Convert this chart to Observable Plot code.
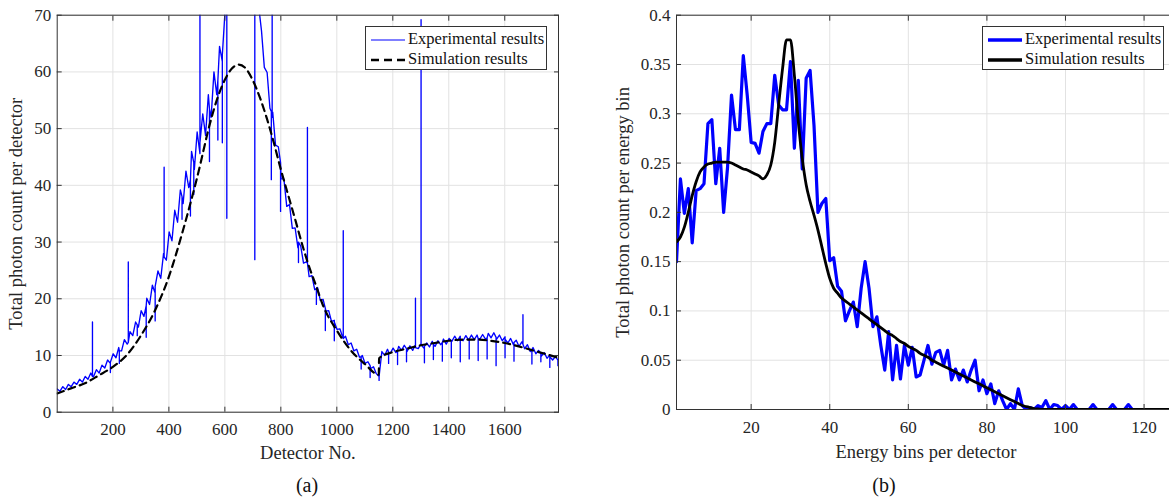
<!DOCTYPE html>
<html><head><meta charset="utf-8">
<script src="https://cdn.jsdelivr.net/npm/d3@7"></script>
<script src="https://cdn.jsdelivr.net/npm/@observablehq/plot@0.6"></script>
<style>
html,body{margin:0;padding:0;background:#fff;width:1169px;height:500px;overflow:hidden;}
#wrap{position:relative;width:1169px;height:500px;overflow:hidden;font-family:"Liberation Serif",serif;color:#111;}
.panel{position:absolute;top:0;}
.legend{position:absolute;box-sizing:border-box;background:#fff;border:1px solid #333;font-size:16.5px;line-height:20px;}
.legend .row{position:absolute;left:0;white-space:nowrap;}
.legend svg{position:absolute;left:0;top:0;}
.legend span{position:absolute;left:42px;top:0;}
.caption{position:absolute;top:474px;font-size:20px;width:60px;text-align:center;}
</style></head>
<body><div id="wrap"></div>
<script>
// ---------- Panel (a) data ----------
const detX = d3.range(1, 1792, 10); // detector numbers 1, 11, ..., 1791
const expCount = [
4.1,3.7,4.5,4.0,4.9,4.5,5.3,4.9,5.8,5.3,
6.3,5.8,6.9,6.3,7.5,6.9,8.3,7.8,9.2,8.6,
10.3,9.6,11.4,10.8,12.8,12.0,14.2,13.5,15.9,15.0,
17.9,16.9,20.1,19.0,22.4,21.0,24.9,23.6,28.0,26.8,
31.8,30.2,35.6,33.5,39.2,36.8,42.5,39.6,46.0,42.8,
49.4,45.6,52.6,48.8,56.0,52.0,60.0,56.0,64.5,61.8,
71,75,78,82,84,86,87,86,85,83,
80,77,71.5,67.2,60.8,59.9,53.6,52.9,47.1,46.8,
41.2,41.1,36.3,36.6,32.4,32.5,29.0,29.3,26.3,26.5,
23.9,24.1,21.6,22.0,19.7,19.9,17.8,17.9,16.0,16.2,
14.6,14.7,13.2,13.4,11.9,12.2,10.8,11.1,9.7,10.0,
8.6,8.9,7.7,8.0,6.8,6.3,10.7,10.0,11.1,10.4,
11.3,10.5,11.6,10.9,11.8,10.7,11.7,10.9,11.9,11.2,
12.1,11.3,12.2,11.5,12.5,11.6,12.6,11.9,12.9,12.0,
13.0,12.5,13.4,12.6,13.4,12.6,13.5,12.7,13.6,12.8,
13.6,12.9,13.7,12.9,13.9,13.1,14.0,12.9,13.6,12.6,
13.3,12.2,13.0,11.9,12.7,11.6,12.4,11.2,11.9,10.7,
11.4,10.3,10.9,9.9,10.5,9.5,10.1,9.2,9.8,9.0
];
// narrow spikes at module edges: [detector, base value, tip value]
const spikes = [
[127,6.3,15.9],[255,12.3,26.5],[383,27.4,43.2],[511,47.5,75],[769,52,75],
[895,26.3,50.2],[1023,13.0,32],[1281,11.4,20.1],[1301,11.9,69.2],[1665,12.0,17.2],
[191,8.8,7.0],[223,10.8,8.6],[287,15.4,13.5],[319,18.8,13.2],[351,22.2,16.1],
[447,38,34],[477,41,34.6],[489,44,38.4],[545,53.5,44.2],[575,58.5,48],[591,63,47.5],
[607,75,34.2],[707,75,26.9],[766,53,41],[799,44,35.4],[863,30,26.4],[927,21.8,19],
[959,18.3,14.4],[991,15.9,12.6],[1087,9.8,7.6],[1119,8.2,6.1],[1151,6.3,5.6],
[1185,10.6,8.6],[1217,10.9,8.4],[1249,11.2,8.9],[1313,11.6,8.7],[1345,12.0,9.3],
[1377,12.3,9.0],[1409,12.6,9.6],[1441,12.8,8.9],[1473,12.9,9.4],[1505,13.0,9.1],
[1537,13.1,9.4],[1569,13.2,8.2],[1601,12.9,9.6],[1633,12.3,9.0],[1697,11.0,8.5],
[1729,10.3,8.9],[1761,9.8,7.9],[1790,9.2,8.2]
];
const simDetX = [1,50,100,150,200,250,300,350,400,450,500,550,575,600,625,650,675,700,725,750,775,800,825,850,875,900,925,950,1000,1050,1100,1150,1151,1200,1250,1300,1350,1400,1450,1500,1550,1600,1650,1700,1750,1792];
const simCount = [3.3,4.2,5.1,6.5,8.0,10.1,13.5,17.9,23.9,32.0,41.2,51.5,55.6,58.6,60.6,61.3,60.6,58.5,55.5,51.8,47.5,42.8,38.5,34.2,29.8,25.8,22.4,18.9,14.4,10.9,8.5,6.6,9.5,10.6,11.2,11.8,12.2,12.6,12.8,12.8,12.6,12.2,11.6,10.9,10.2,9.6];
const xTicksA = [200,400,600,800,1000,1200,1400,1600];
const yTicksA = [0,10,20,30,40,50,60,70];

// ---------- Panel (b) data ----------
const binX = d3.range(1, 129);
const expBin = [
0.15,0.234,0.199,0.224,0.169,0.222,0.224,0.229,0.29,0.294,
0.229,0.265,0.2,0.246,0.319,0.284,0.284,0.359,0.319,0.271,
0.27,0.26,0.282,0.29,0.29,0.339,0.309,0.304,0.304,0.353,
0.265,0.334,0.244,0.336,0.344,0.288,0.2,0.209,0.214,0.151,
0.154,0.125,0.12,0.09,0.1,0.109,0.084,0.123,0.15,0.123,
0.084,0.094,0.065,0.04,0.079,0.03,0.065,0.031,0.065,0.045,
0.063,0.033,0.035,0.05,0.065,0.046,0.058,0.06,0.045,0.06,
0.03,0.041,0.03,0.04,0.028,0.04,0.05,0.019,0.03,0.016,
0.026,0.006,0.019,0.009,0,0.006,0,0.021,0.004,0,
0.002,0,0.004,0.002,0.009,0,0.005,0.004,0,0.004,
0,0.005,0,0,0,0,0.005,0,0,0,
0,0.005,0,0,0,0.005,0,0,0,0,
0,0,0,0,0,0,0,0
];
const simBin = [
0.17,0.175,0.185,0.2,0.217,0.231,0.241,0.246,0.249,0.25,
0.251,0.251,0.251,0.251,0.25,0.248,0.246,0.244,0.243,0.241,
0.239,0.237,0.234,0.238,0.248,0.271,0.309,0.346,0.375,0.375,
0.339,0.292,0.255,0.228,0.211,0.197,0.182,0.165,0.148,0.133,
0.123,0.118,0.113,0.11,0.107,0.104,0.101,0.098,0.095,0.092,
0.089,0.086,0.083,0.08,0.077,0.075,0.072,0.069,0.067,0.064,
0.062,0.06,0.057,0.055,0.053,0.05,0.048,0.046,0.044,0.042,
0.04,0.038,0.036,0.034,0.032,0.03,0.028,0.026,0.024,0.022,
0.02,0.018,0.016,0.014,0.012,0.01,0.008,0.006,0.004,0.003,
0.002,0.001,0.0005,0,0,0,0,0,0,0,
0,0,0,0,0,0,0,0,0,0,
0,0,0,0,0,0,0,0,0,0,
0,0,0,0,0,0,0,0
];
const xTicksB = [20,40,60,80,100,120];
const yTicksB = [0,0.05,0.1,0.15,0.2,0.25,0.3,0.35,0.4];

const BLUE = "#0000ff", FRAME = "#333333", GRID = "#e2e2e2";
const FONT = "Liberation Serif";

function axesFor(xt, yt, xlabel, ylabel, xOff, yOff) {
  const fmt = d3.format("~g");
  return [
    Plot.axisX(xt, {anchor: "bottom", tickSize: 0, tickPadding: 11, fontSize: 17, tickFormat: fmt, label: null}),
    Plot.axisY(yt, {anchor: "left", tickSize: 0, tickPadding: 6, fontSize: 17, tickFormat: fmt, label: null}),
    Plot.axisX([], {anchor: "bottom", tickSize: 0, fontSize: 18.5, label: xlabel, labelAnchor: "center", labelArrow: "none", labelOffset: xOff}),
    Plot.axisY([], {anchor: "left", tickSize: 0, fontSize: 18.5, label: ylabel, labelAnchor: "center", labelArrow: "none", labelOffset: yOff}),
    Plot.axisX(xt, {anchor: "bottom", tickSize: -5, fill: "none", stroke: FRAME}),
    Plot.axisX(xt, {anchor: "top", tickSize: -5, fill: "none", stroke: FRAME}),
    Plot.axisY(yt, {anchor: "left", tickSize: -5, fill: "none", stroke: FRAME}),
    Plot.axisY(yt, {anchor: "right", tickSize: -5, fill: "none", stroke: FRAME})
  ];
}

const wrap = document.getElementById("wrap");

// ---------- Panel (a) ----------
// experimental line: base samples plus vertical spikes (base -> tip -> base)
const expA = detX.map((d, i) => ({x: d, y: expCount[i], o: 0}));
spikes.forEach(([d, b, t]) => {
  expA.push({x: d, y: b, o: 1}, {x: d, y: t, o: 2}, {x: d, y: b, o: 3});
});
expA.sort((a, b) => a.x - b.x || a.o - b.o);
const simA = simDetX.map((d, i) => ({x: d, y: simCount[i]}));
const plotA = Plot.plot({
  width: 580, height: 500,
  marginLeft: 56.7, marginRight: 22, marginTop: 14.7, marginBottom: 88.3,
  style: {fontFamily: FONT, color: "#262626", background: "transparent", overflow: "visible"},
  x: {domain: [1, 1792]},
  y: {domain: [0, 70]},
  marks: [
    Plot.gridX(xTicksA, {stroke: GRID, strokeOpacity: 1}),
    Plot.gridY(yTicksA, {stroke: GRID, strokeOpacity: 1}),
    Plot.line(expA, {x: "x", y: "y", stroke: BLUE, strokeWidth: 1.35, clip: "frame"}),
    Plot.line(simA, {x: "x", y: "y", stroke: "#000", strokeWidth: 2.2, strokeDasharray: "7,5", curve: "monotone-x", clip: "frame"}),
    Plot.frame({stroke: FRAME, strokeWidth: 1}),
    ...axesFor(xTicksA, yTicksA, "Detector No.", "Total photon count per detector", 46.5, 48)
  ]
});
plotA.classList.add("panel");
plotA.style.left = "0px";
wrap.appendChild(plotA);

// ---------- Panel (b) ----------
const expB = binX.map((d, i) => ({x: d, y: expBin[i]}));
const simB = binX.map((d, i) => ({x: d, y: simBin[i]}));
const plotB = Plot.plot({
  width: 560, height: 500,
  marginLeft: 56, marginRight: 5, marginTop: 14.7, marginBottom: 91,
  style: {fontFamily: FONT, color: "#262626", background: "transparent", overflow: "visible"},
  x: {domain: [1, 128]},
  y: {domain: [0, 0.4]},
  marks: [
    Plot.gridX(xTicksB, {stroke: GRID, strokeOpacity: 1}),
    Plot.gridY(yTicksB, {stroke: GRID, strokeOpacity: 1}),
    Plot.line(expB, {x: "x", y: "y", stroke: BLUE, strokeWidth: 3.2, clip: "frame"}),
    Plot.line(simB, {x: "x", y: "y", stroke: "#000", strokeWidth: 2.8, curve: "monotone-x", clip: "frame"}),
    Plot.frame({stroke: FRAME, strokeWidth: 1}),
    ...axesFor(xTicksB, yTicksB, "Energy bins per detector", "Total photon count per energy bin", 48, 61)
  ]
});
plotB.classList.add("panel");
plotB.style.left = "620px";
wrap.appendChild(plotB);

// ---------- Legends ----------
function legend(left, items) {
  const box = document.createElement("div");
  box.className = "legend";
  box.style.left = left + "px";
  box.style.top = "26px";
  box.style.width = "182px";
  box.style.height = "44px";
  items.forEach((it, i) => {
    const row = document.createElement("div");
    row.className = "row";
    row.style.top = (2 + i * 19.5) + "px";
    row.style.width = "180px";
    row.style.height = "20px";
    const svg = d3.create("svg").attr("width", 42).attr("height", 20);
    svg.append("line").attr("x1", 5).attr("x2", 39).attr("y1", 11).attr("y2", 11)
      .attr("stroke", it.color).attr("stroke-width", it.width)
      .attr("stroke-dasharray", it.dash || null);
    row.appendChild(svg.node());
    const sp = document.createElement("span");
    sp.textContent = it.label;
    row.appendChild(sp);
    box.appendChild(row);
  });
  wrap.appendChild(box);
}
legend(365, [
  {label: "Experimental results", color: BLUE, width: 1.2},
  {label: "Simulation results", color: "#000", width: 2.5, dash: "8,5"}
]);
legend(982, [
  {label: "Experimental results", color: BLUE, width: 3.5},
  {label: "Simulation results", color: "#000", width: 3.5}
]);

// ---------- Captions ----------
[["(a)", 307], ["(b)", 884]].forEach(([t, cx]) => {
  const c = document.createElement("div");
  c.className = "caption";
  c.textContent = t;
  c.style.left = (cx - 30) + "px";
  wrap.appendChild(c);
});
</script>
</body></html>
